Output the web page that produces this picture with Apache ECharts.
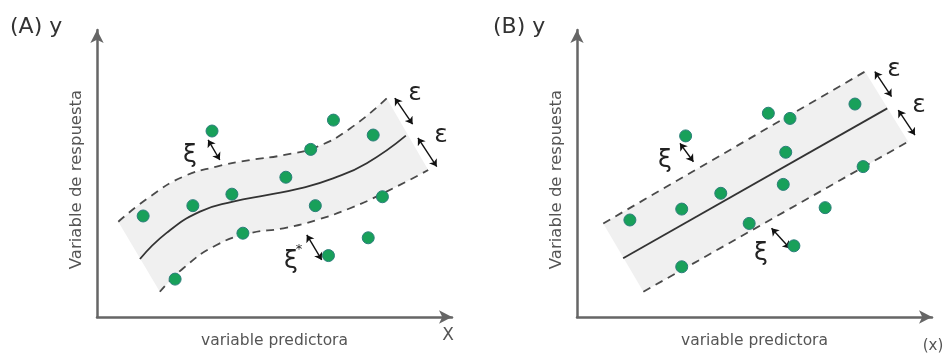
<!DOCTYPE html>
<html><head><meta charset="utf-8">
<script src="https://cdn.jsdelivr.net/npm/echarts@6/dist/echarts.min.js"></script>
<style>html,body{margin:0;padding:0;background:#fff}#c{width:950px;height:358px}</style>
</head><body><div id="c"></div>
<script>
// ---------- Panel A (nonlinear) ----------
const pointsA = [[13.0,35.2],[27.0,38.8],[38.0,42.8],[32.4,64.8],[41.1,29.2],[22.0,13.2],[53.2,48.7],[60.2,58.4],[61.5,38.8],[66.6,68.6],[65.2,21.4],[77.8,63.4],[80.4,41.9],[76.4,27.6]];
const curveA = [[12.1,20.2],[19.6,29.3],[29.0,36.7],[38.3,40.2],[47.8,42.5],[57.2,44.8],[66.5,48.3],[76.0,53.6],[87.0,63.2]];
const upperA = [[6.0,33.2],[14.9,41.9],[24.3,48.9],[33.7,52.4],[43.1,54.7],[52.5,56.4],[61.9,59.3],[71.3,65.7],[81.6,76.2]];
const lowerA = [[17.7,8.8],[24.3,17.0],[33.7,25.1],[43.1,29.2],[52.5,30.9],[61.9,33.8],[71.3,37.9],[80.6,43.1],[93.3,51.2]];
const arrowsA = [[[31.3,61.7],[34.6,54.7]],[[59.1,28.6],[63.3,19.9]],[[83.9,76.3],[88.9,67.2]],[[90.4,62.4],[95.7,52.4]]];
// ---------- Panel B (linear) ----------
const pointsB = [[14.9,33.8],[29.5,37.6],[40.5,43.1],[30.6,63.1],[48.5,32.6],[29.5,17.5],[53.9,71.0],[60.0,69.2],[58.8,57.4],[58.1,46.2],[78.3,74.2],[80.6,52.4],[69.9,38.1],[61.1,24.8]];
const lineB = [[13.0,20.5],[87.4,72.7]];
const upperB = [[7.4,32.6],[81.1,85.5]];
const lowerB = [[18.7,8.8],[93.3,61.1]];
const arrowsB = [[[29.0,60.5],[32.8,54.1]],[[54.8,30.9],[60.0,23.9]],[[83.9,85.5],[88.6,76.8]],[[90.5,72.1],[95.2,63.4]]];

const axisTitleY = 'Variable de respuesta';
const axisTitleX = 'variable predictora';
const FONT = '"DejaVu Sans", Verdana, sans-serif';

function catmull(pts, n) {
  const out = [];
  for (let i = 0; i < pts.length - 1; i++) {
    const p0 = pts[Math.max(i - 1, 0)], p1 = pts[i], p2 = pts[i + 1], p3 = pts[Math.min(i + 2, pts.length - 1)];
    for (let k = 0; k < n; k++) {
      const t = k / n, t2 = t * t, t3 = t2 * t;
      const f = (a, b, c, d) => 0.5 * ((2 * b) + (-a + c) * t + (2 * a - 5 * b + 4 * c - d) * t2 + (-a + 3 * b - 3 * c + d) * t3);
      out.push([f(p0[0], p1[0], p2[0], p3[0]), f(p0[1], p1[1], p2[1], p3[1])]);
    }
  }
  out.push(pts[pts.length - 1]);
  return out;
}

function bandSeries(idx, upper, lower, smooth) {
  const poly = upper.concat(lower.slice().reverse());
  return {
    type: 'custom', xAxisIndex: idx, yAxisIndex: idx, silent: true, z: 1,
    encode: { x: 0, y: 1 },
    data: poly,
    renderItem: function (params, api) {
      if (params.dataIndex !== 0) return null;
      let up = upper.map(p => api.coord(p));
      let lo = lower.map(p => api.coord(p));
      if (smooth) { up = catmull(up, 12); lo = catmull(lo, 12); }
      const pts = up.concat(lo.reverse());
      return { type: 'polygon', shape: { points: pts }, style: { fill: '#f0f0f0', stroke: null } };
    }
  };
}

function dashed(idx, data, smooth) {
  return { type: 'line', xAxisIndex: idx, yAxisIndex: idx, data: data, smooth: smooth, showSymbol: false, silent: true, z: 2,
    lineStyle: { color: '#4a4a4a', width: 1.8, type: [8, 6] } };
}
function solid(idx, data, smooth) {
  return { type: 'line', xAxisIndex: idx, yAxisIndex: idx, data: data, smooth: smooth, showSymbol: false, silent: true, z: 2,
    lineStyle: { color: '#333', width: 1.8 } };
}
function scatter(idx, data) {
  return { type: 'scatter', xAxisIndex: idx, yAxisIndex: idx, data: data, symbolSize: 12, z: 4, silent: true,
    itemStyle: { color: '#18a05a', borderColor: '#2b7f7a', borderWidth: 1, opacity: 1 } };
}
function arrows(idx, data) {
  return { type: 'lines', coordinateSystem: 'cartesian2d', xAxisIndex: idx, yAxisIndex: idx, silent: true, z: 3,
    symbol: ['arrow', 'arrow'], symbolSize: 7,
    lineStyle: { color: '#111', width: 1.4, opacity: 1, curveness: 0 },
    data: data.map(c => ({ coords: c })) };
}
function xAx(idx) {
  return { gridIndex: idx, type: 'value', min: 0, max: 100,
    axisLine: { show: true, onZero: false, symbol: ['none', 'arrow'], symbolSize: [10, 13], lineStyle: { color: '#666', width: 2.5 } },
    axisTick: { show: false }, axisLabel: { show: false }, splitLine: { show: false },
    name: axisTitleX, nameLocation: 'middle', nameGap: 16,
    nameTextStyle: { color: '#555', fontSize: 15.5, fontFamily: FONT } };
}
function yAx(idx) {
  return { gridIndex: idx, type: 'value', min: 0, max: 100,
    axisLine: { show: true, onZero: false, symbol: ['none', 'arrow'], symbolSize: [10, 13], lineStyle: { color: '#666', width: 2.5 } },
    axisTick: { show: false }, axisLabel: { show: false }, splitLine: { show: false },
    name: axisTitleY, nameLocation: 'middle', nameGap: 12, nameRotate: 90,
    nameTextStyle: { color: '#555', fontSize: 16.5, fontFamily: FONT, padding: [0, 12, 0, 0] } };
}
function txt(x, y, s, size, color, align) {
  return { type: 'text', x: x, y: y, z: 10, silent: true,
    style: { text: s, font: size + 'px ' + FONT, fill: color || '#222', align: align || 'center', verticalAlign: 'middle' } };
}

const chart = echarts.init(document.getElementById('c'), null, { renderer: 'canvas' });
chart.setOption({
  animation: false,
  backgroundColor: '#fff',
  grid: [
    { left: 97, top: 30, width: 355, height: 287 },
    { left: 577, top: 30, width: 355, height: 287 }
  ],
  xAxis: [xAx(0), xAx(1)],
  yAxis: [yAx(0), yAx(1)],
  series: [
    bandSeries(0, upperA, lowerA, true),
    dashed(0, upperA, true), dashed(0, lowerA, true), solid(0, curveA, true),
    arrows(0, arrowsA), scatter(0, pointsA),
    bandSeries(1, upperB, lowerB, false),
    dashed(1, upperB, false), dashed(1, lowerB, false), solid(1, lineB, false),
    arrows(1, arrowsB), scatter(1, pointsB)
  ],
  graphic: [
    txt(10, 27, '(A) y', 22, '#333', 'left'),
    txt(493, 27, '(B) y', 22, '#333', 'left'),
    txt(448, 336, 'X', 17, '#555'),
    txt(933, 346, '(x)', 15, '#555'),
    txt(190, 155, 'ξ', 25),
    txt(291, 261, 'ξ', 25),
    txt(299, 250, '*', 13),
    txt(415, 93, 'ε', 25),
    txt(441, 135, 'ε', 25),
    txt(665, 160, 'ξ', 25),
    txt(761, 253, 'ξ', 25),
    txt(894, 69, 'ε', 25),
    txt(919, 105, 'ε', 25)
  ]
});
</script></body></html>
